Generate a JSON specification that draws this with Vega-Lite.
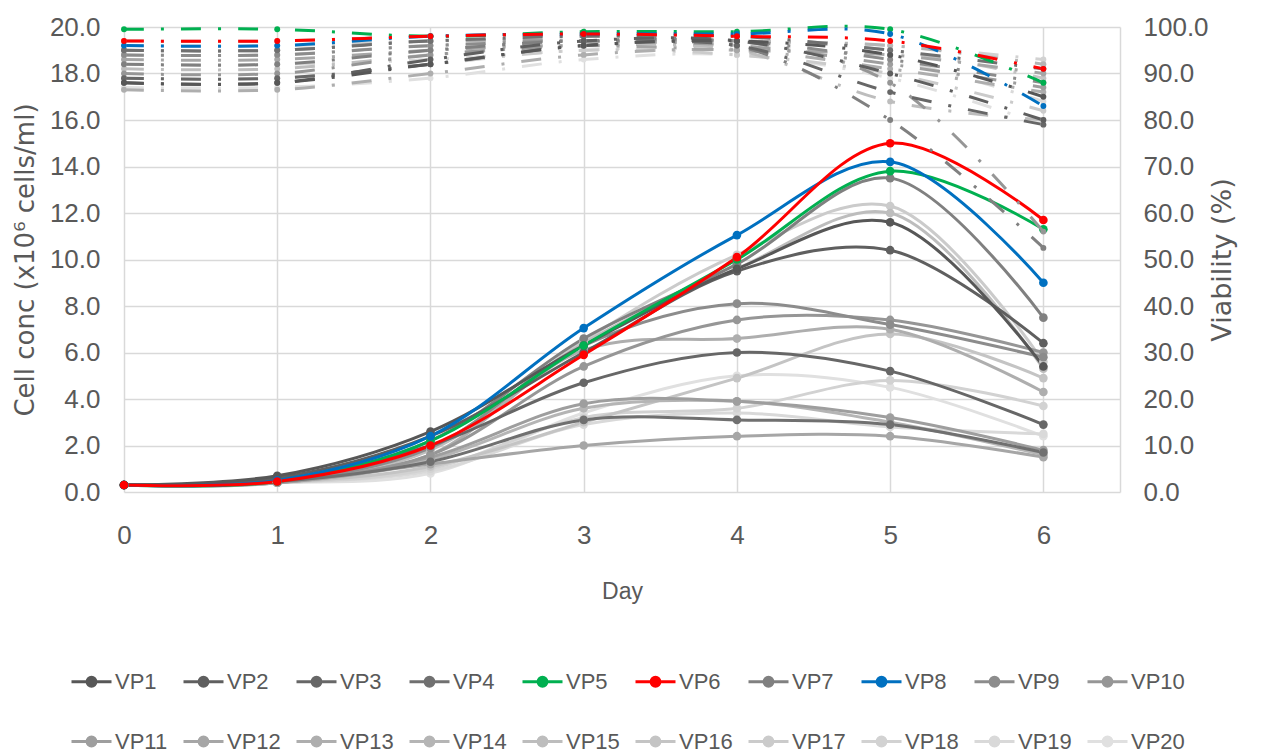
{
  "$schema": "https://vega.github.io/schema/vega-lite/v6.json",
  "width": 996,
  "height": 465,
  "autosize": "none",
  "padding": {"left": 124, "top": 27, "right": 142, "bottom": 263},
  "background": "white",
  "config": {"view": {"stroke": null}},
  "datasets": {
    "vp": [
      {"vp":"VP20","day":0,"conc":0.3,"via":87},{"vp":"VP20","day":1,"conc":0.4,"via":87},{"vp":"VP20","day":2,"conc":0.8,"via":89},{"vp":"VP20","day":3,"conc":3.4,"via":93},{"vp":"VP20","day":4,"conc":5.0,"via":94},{"vp":"VP20","day":5,"conc":4.5,"via":89},{"vp":"VP20","day":6,"conc":2.4,"via":79},
      {"vp":"VP19","day":0,"conc":0.3,"via":92},{"vp":"VP19","day":1,"conc":0.4,"via":92},{"vp":"VP19","day":2,"conc":0.9,"via":93},{"vp":"VP19","day":3,"conc":2.9,"via":95},{"vp":"VP19","day":4,"conc":3.4,"via":96},{"vp":"VP19","day":5,"conc":2.8,"via":93},{"vp":"VP19","day":6,"conc":2.5,"via":84},
      {"vp":"VP18","day":0,"conc":0.3,"via":96},{"vp":"VP18","day":1,"conc":0.4,"via":96},{"vp":"VP18","day":2,"conc":1.0,"via":97},{"vp":"VP18","day":3,"conc":3.2,"via":97},{"vp":"VP18","day":4,"conc":3.6,"via":97},{"vp":"VP18","day":5,"conc":4.8,"via":96},{"vp":"VP18","day":6,"conc":3.7,"via":93},
      {"vp":"VP17","day":0,"conc":0.3,"via":89},{"vp":"VP17","day":1,"conc":0.4,"via":89},{"vp":"VP17","day":2,"conc":1.9,"via":92},{"vp":"VP17","day":3,"conc":6.5,"via":95},{"vp":"VP17","day":4,"conc":10.2,"via":94},{"vp":"VP17","day":5,"conc":12.3,"via":90},{"vp":"VP17","day":6,"conc":5.6,"via":82},
      {"vp":"VP16","day":0,"conc":0.3,"via":94},{"vp":"VP16","day":1,"conc":0.4,"via":94},{"vp":"VP16","day":2,"conc":1.1,"via":96},{"vp":"VP16","day":3,"conc":3.0,"via":96},{"vp":"VP16","day":4,"conc":4.9,"via":97},{"vp":"VP16","day":5,"conc":6.8,"via":95},{"vp":"VP16","day":6,"conc":4.9,"via":89},
      {"vp":"VP15","day":0,"conc":0.3,"via":91},{"vp":"VP15","day":1,"conc":0.4,"via":91},{"vp":"VP15","day":2,"conc":1.8,"via":94},{"vp":"VP15","day":3,"conc":6.4,"via":96},{"vp":"VP15","day":4,"conc":9.6,"via":95},{"vp":"VP15","day":5,"conc":12.0,"via":84},{"vp":"VP15","day":6,"conc":5.3,"via":80},
      {"vp":"VP14","day":0,"conc":0.3,"via":97},{"vp":"VP14","day":1,"conc":0.4,"via":97},{"vp":"VP14","day":2,"conc":1.4,"via":98},{"vp":"VP14","day":3,"conc":3.6,"via":98},{"vp":"VP14","day":4,"conc":3.9,"via":97},{"vp":"VP14","day":5,"conc":3.0,"via":96},{"vp":"VP14","day":6,"conc":1.6,"via":92},
      {"vp":"VP13","day":0,"conc":0.3,"via":86.5},{"vp":"VP13","day":1,"conc":0.4,"via":86.5},{"vp":"VP13","day":2,"conc":1.6,"via":90},{"vp":"VP13","day":3,"conc":6.1,"via":94},{"vp":"VP13","day":4,"conc":6.6,"via":95},{"vp":"VP13","day":5,"conc":7.0,"via":91},{"vp":"VP13","day":6,"conc":4.3,"via":86},
      {"vp":"VP12","day":0,"conc":0.3,"via":93},{"vp":"VP12","day":1,"conc":0.4,"via":93},{"vp":"VP12","day":2,"conc":1.2,"via":95},{"vp":"VP12","day":3,"conc":2.0,"via":96},{"vp":"VP12","day":4,"conc":2.4,"via":95},{"vp":"VP12","day":5,"conc":2.4,"via":94},{"vp":"VP12","day":6,"conc":1.5,"via":90},
      {"vp":"VP11","day":0,"conc":0.3,"via":95},{"vp":"VP11","day":1,"conc":0.4,"via":95},{"vp":"VP11","day":2,"conc":1.5,"via":97},{"vp":"VP11","day":3,"conc":3.8,"via":97},{"vp":"VP11","day":4,"conc":3.9,"via":96},{"vp":"VP11","day":5,"conc":3.2,"via":92},{"vp":"VP11","day":6,"conc":1.8,"via":87},
      {"vp":"VP10","day":0,"conc":0.3,"via":90},{"vp":"VP10","day":1,"conc":0.45,"via":90},{"vp":"VP10","day":2,"conc":1.6,"via":94},{"vp":"VP10","day":3,"conc":5.4,"via":96},{"vp":"VP10","day":4,"conc":7.4,"via":97},{"vp":"VP10","day":5,"conc":7.4,"via":88},{"vp":"VP10","day":6,"conc":6.0,"via":56},
      {"vp":"VP9","day":0,"conc":0.3,"via":94},{"vp":"VP9","day":1,"conc":0.45,"via":94},{"vp":"VP9","day":2,"conc":1.9,"via":96},{"vp":"VP9","day":3,"conc":6.3,"via":97},{"vp":"VP9","day":4,"conc":8.1,"via":97},{"vp":"VP9","day":5,"conc":7.2,"via":93},{"vp":"VP9","day":6,"conc":5.8,"via":88},
      {"vp":"VP7","day":0,"conc":0.3,"via":92},{"vp":"VP7","day":1,"conc":0.5,"via":92},{"vp":"VP7","day":2,"conc":2.2,"via":95},{"vp":"VP7","day":3,"conc":6.6,"via":97},{"vp":"VP7","day":4,"conc":9.8,"via":96},{"vp":"VP7","day":5,"conc":13.5,"via":80},{"vp":"VP7","day":6,"conc":7.5,"via":52.5},
      {"vp":"VP4","day":0,"conc":0.3,"via":95},{"vp":"VP4","day":1,"conc":0.45,"via":95},{"vp":"VP4","day":2,"conc":1.3,"via":97},{"vp":"VP4","day":3,"conc":3.1,"via":98},{"vp":"VP4","day":4,"conc":3.1,"via":98},{"vp":"VP4","day":5,"conc":2.9,"via":95},{"vp":"VP4","day":6,"conc":1.7,"via":91},
      {"vp":"VP3","day":0,"conc":0.3,"via":89},{"vp":"VP3","day":1,"conc":0.5,"via":89},{"vp":"VP3","day":2,"conc":2.0,"via":92},{"vp":"VP3","day":3,"conc":4.7,"via":96},{"vp":"VP3","day":4,"conc":6.0,"via":96},{"vp":"VP3","day":5,"conc":5.2,"via":86},{"vp":"VP3","day":6,"conc":2.9,"via":79},
      {"vp":"VP2","day":0,"conc":0.3,"via":88},{"vp":"VP2","day":1,"conc":0.6,"via":88},{"vp":"VP2","day":2,"conc":2.4,"via":93},{"vp":"VP2","day":3,"conc":6.0,"via":97},{"vp":"VP2","day":4,"conc":9.5,"via":97},{"vp":"VP2","day":5,"conc":10.4,"via":90},{"vp":"VP2","day":6,"conc":6.4,"via":80},
      {"vp":"VP1","day":0,"conc":0.3,"via":88},{"vp":"VP1","day":1,"conc":0.7,"via":88},{"vp":"VP1","day":2,"conc":2.6,"via":92},{"vp":"VP1","day":3,"conc":6.3,"via":96},{"vp":"VP1","day":4,"conc":9.6,"via":97},{"vp":"VP1","day":5,"conc":11.6,"via":94},{"vp":"VP1","day":6,"conc":5.4,"via":85},
      {"vp":"VP5","day":0,"conc":0.3,"via":99.5},{"vp":"VP5","day":1,"conc":0.45,"via":99.5},{"vp":"VP5","day":2,"conc":2.2,"via":98},{"vp":"VP5","day":3,"conc":6.3,"via":99},{"vp":"VP5","day":4,"conc":10.0,"via":99},{"vp":"VP5","day":5,"conc":13.8,"via":99.5},{"vp":"VP5","day":6,"conc":11.3,"via":88},
      {"vp":"VP8","day":0,"conc":0.3,"via":96},{"vp":"VP8","day":1,"conc":0.5,"via":96},{"vp":"VP8","day":2,"conc":2.4,"via":98},{"vp":"VP8","day":3,"conc":7.05,"via":98.5},{"vp":"VP8","day":4,"conc":11.05,"via":98.5},{"vp":"VP8","day":5,"conc":14.2,"via":98.5},{"vp":"VP8","day":6,"conc":9.0,"via":83},
      {"vp":"VP6","day":0,"conc":0.3,"via":97},{"vp":"VP6","day":1,"conc":0.45,"via":97},{"vp":"VP6","day":2,"conc":2.0,"via":98},{"vp":"VP6","day":3,"conc":5.9,"via":98.5},{"vp":"VP6","day":4,"conc":10.1,"via":98},{"vp":"VP6","day":5,"conc":15.0,"via":97},{"vp":"VP6","day":6,"conc":11.7,"via":91}
    ]
  },
  "data": {"name": "vp"},
  "encoding": {
    "x": {
      "field": "day", "type": "quantitative",
      "scale": {"domain": [0, 6.5], "nice": false, "zero": false},
      "axis": {
        "values": [0, 1, 2, 3, 4, 5, 6], "format": "d", "title": "Day",
        "grid": true, "gridColor": "#d9d9d9", "gridWidth": 1.5,
        "domain": false, "ticks": false, "labelFlush": false,
        "labelFont": "Liberation Sans", "labelFontSize": 26, "labelColor": "#595959", "labelPadding": 30,
        "titleFont": "Liberation Sans", "titleFontSize": 23, "titleFontWeight": "normal", "titleColor": "#595959", "titlePadding": 32
      }
    },
    "color": {
      "field": "vp", "type": "nominal",
      "scale": {
        "domain": ["VP1","VP2","VP3","VP4","VP5","VP6","VP7","VP8","VP9","VP10","VP11","VP12","VP13","VP14","VP15","VP16","VP17","VP18","VP19","VP20"],
        "range": ["#575757","#5f5f5f","#676767","#707070","#00b050","#ff0000","#808080","#0070c0","#8c8c8c","#969696","#9e9e9e","#a6a6a6","#aeaeae","#b5b5b5","#bdbdbd","#c4c4c4","#cbcbcb","#d2d2d2","#d9d9d9","#e0e0e0"]
      },
      "legend": {
        "orient": "none", "legendX": -54, "legendY": 633,
        "direction": "horizontal", "columns": 10, "title": null, "padding": 0,
        "symbolType": "M-1,0H1M0,-0.22A0.22,0.22,0,1,1,0,0.22A0.22,0.22,0,1,1,0,-0.22Z",
        "symbolSize": 1600, "symbolStrokeWidth": 3, "symbolOpacity": 1,
        "labelFont": "Liberation Sans", "labelFontSize": 22, "labelColor": "#595959", "labelOffset": 2,
        "columnPadding": 9, "rowPadding": 27,
        "encode": {"symbols": {"update": {"fill": {"scale": "color", "field": "value"}, "stroke": {"scale": "color", "field": "value"}}}}
      }
    }
  },
  "layer": [
    {
      "encoding": {
        "y": {
          "field": "conc", "type": "quantitative",
          "scale": {"domain": [0, 20], "nice": false},
          "axis": {
            "values": [0, 2, 4, 6, 8, 10, 12, 14, 16, 18, 20], "format": ".1f",
            "title": "Cell conc (x10⁶ cells/ml)",
            "grid": true, "gridColor": "#d9d9d9", "gridWidth": 1.5,
            "domain": false, "ticks": false,
            "labelFont": "Liberation Sans", "labelFontSize": 26, "labelColor": "#595959", "labelPadding": 24,
            "titleFont": "DejaVu Sans", "titleFontSize": 26, "titleFontWeight": "normal", "titleColor": "#595959", "titlePadding": 11
          }
        }
      },
      "layer": [
        {"mark": {"type": "line", "interpolate": "catmull-rom", "strokeWidth": 3}, "encoding": {}},
        {"mark": {"type": "point", "filled": true, "size": 75, "opacity": 1}, "encoding": {}}
      ]
    },
    {
      "encoding": {
        "y": {
          "field": "via", "type": "quantitative",
          "scale": {"domain": [0, 100], "nice": false},
          "axis": {
            "orient": "right",
            "values": [0, 10, 20, 30, 40, 50, 60, 70, 80, 90, 100], "format": ".1f",
            "title": "Viability (%)", "titleAngle": 270,
            "grid": false, "domain": true, "domainColor": "#d9d9d9", "domainWidth": 1.5, "ticks": false,
            "labelFont": "Liberation Sans", "labelFontSize": 26, "labelColor": "#595959", "labelPadding": 23,
            "titleFont": "DejaVu Sans", "titleFontSize": 27, "titleFontWeight": "normal", "titleColor": "#595959", "titlePadding": 28
          }
        }
      },
      "layer": [
        {"mark": {"type": "line", "interpolate": "catmull-rom", "strokeWidth": 3, "strokeDash": [20, 17, 3, 17]}, "encoding": {}},
        {"mark": {"type": "point", "filled": true, "size": 35, "opacity": 1}, "encoding": {}}
      ]
    }
  ],
  "resolve": {"scale": {"y": "independent"}}
}
